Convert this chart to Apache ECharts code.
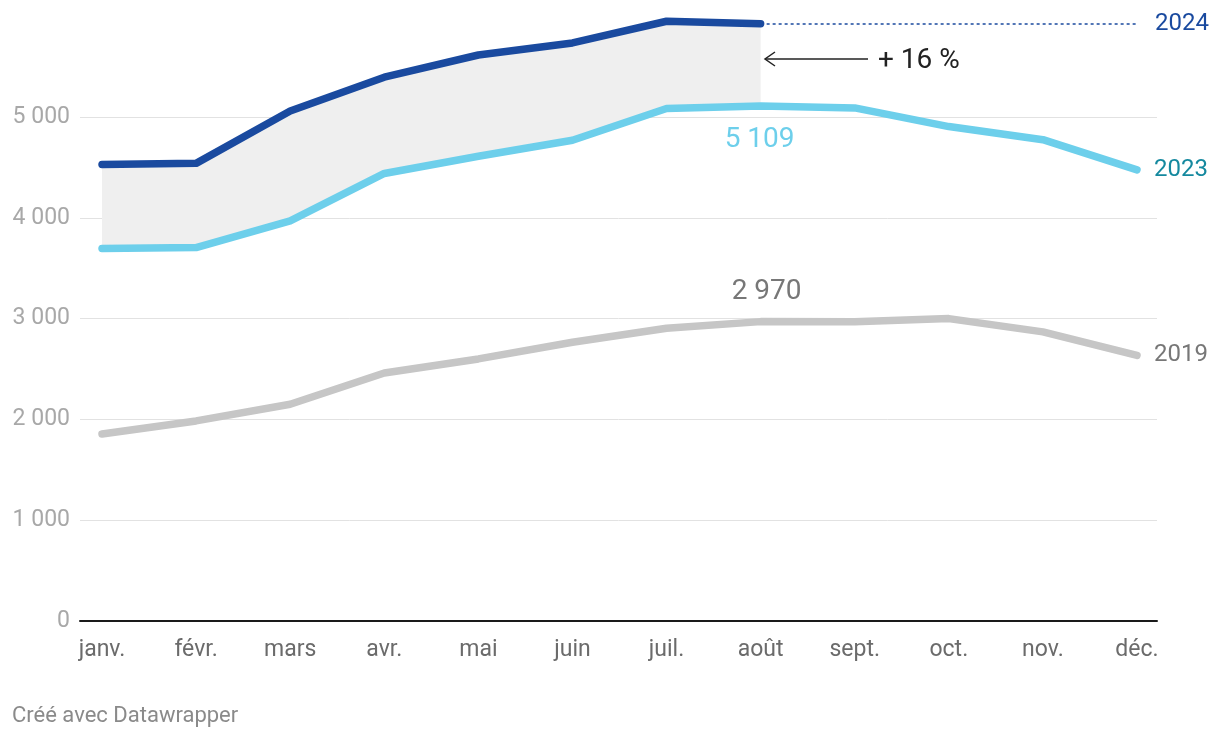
<!DOCTYPE html>
<html><head><meta charset="utf-8">
<script src="https://cdn.jsdelivr.net/npm/echarts@6/dist/echarts.min.js"></script>
<style>html,body{margin:0;padding:0;background:#fff}#c{width:1220px;height:738px}</style>
</head><body><div id="c"></div>
<script>
const months = ['janv.','févr.','mars','avr.','mai','juin','juil.','août','sept.','oct.','nov.','déc.'];
const values2024 = [4530, 4540, 5060, 5395, 5615, 5735, 5950, 5925];
const values2023 = [3695, 3705, 3970, 4440, 4610, 4770, 5085, 5109, 5090, 4905, 4775, 4475];
const values2019 = [1855, 1985, 2150, 2460, 2600, 2765, 2905, 2970, 2968, 3000, 2868, 2635];
const yTicks = [0, 1000, 2000, 3000, 4000, 5000];
const annotationText = '+ 16 %';

const FONT = 'Roboto';
const C24 = '#1a4a9f', C23 = '#6dcfeb', C19 = '#c6c6c6';
const fmt = v => String(v).replace(/\B(?=(\d{3})+(?!\d))/g, ' ');

const n24 = values2024.length;
const bandBase = values2023.slice(0, n24);
const bandDiff = values2024.map((v, i) => v - values2023[i]);

const chart = echarts.init(document.getElementById('c'), null, {renderer: 'canvas'});
chart.setOption({
  animation: false,
  textStyle: {fontFamily: FONT},
  grid: [
    {left: 80, right: 63, top: 117, bottom: 117},
    {left: 102, right: 83, top: 621 - 6000 * 0.1008, bottom: 117}
  ],
  xAxis: [
    {gridIndex: 0, type: 'value', min: 0, max: 1, axisLabel: {show: false}, axisTick: {show: false},
     splitLine: {show: false}, axisLine: {show: true, lineStyle: {color: '#1a1a1a', width: 2}}, z: 5},
    {gridIndex: 1, type: 'category', data: months, boundaryGap: false,
     axisLine: {show: false}, axisTick: {show: false},
     axisLabel: {color: '#6b6b6b', fontSize: 23, margin: 18, fontFamily: FONT}}
  ],
  yAxis: [
    {gridIndex: 0, type: 'value', min: yTicks[0], max: yTicks[yTicks.length - 1], interval: 1000,
     axisLine: {show: false}, axisTick: {show: false},
     axisLabel: {color: '#a8a8a8', fontSize: 23, margin: 10, fontFamily: FONT, formatter: v => fmt(v)},
     splitLine: {show: true, lineStyle: {color: '#e2e2e2', width: 1}}},
    {gridIndex: 1, type: 'value', min: 0, max: 6000, show: false, splitLine: {show: false}}
  ],
  series: [
    {name: 'base', type: 'line', xAxisIndex: 1, yAxisIndex: 1, stack: 'band', data: bandBase,
     showSymbol: false, symbol: 'none', lineStyle: {opacity: 0}, z: 1, clip: false, silent: true},
    {name: 'band', type: 'line', xAxisIndex: 1, yAxisIndex: 1, stack: 'band', data: bandDiff,
     showSymbol: false, symbol: 'none', lineStyle: {opacity: 0}, areaStyle: {color: '#efefef', opacity: 1},
     z: 1, clip: false, silent: true},
    {name: '2019', type: 'line', xAxisIndex: 1, yAxisIndex: 1, data: values2019,
     showSymbol: false, symbol: 'none', lineStyle: {color: C19, width: 7.5, cap: 'round', join: 'round'}, z: 3, clip: false,
     endLabel: {show: true, formatter: '2019', color: '#777777', fontSize: 24, distance: 17, fontFamily: FONT},
     markPoint: {symbol: 'circle', symbolSize: 0, silent: true,
       data: [{coord: ['août', values2019[7]], value: values2019[7]}],
       label: {show: true, position: 'inside', offset: [6, -30], formatter: p => fmt(p.value), color: '#777777', fontSize: 28, fontFamily: FONT}}},
    {name: '2023', type: 'line', xAxisIndex: 1, yAxisIndex: 1, data: values2023,
     showSymbol: false, symbol: 'none', lineStyle: {color: C23, width: 7.5, cap: 'round', join: 'round'}, z: 4, clip: false,
     endLabel: {show: true, formatter: '2023', color: '#15899f', fontSize: 24, distance: 17, fontFamily: FONT},
     markPoint: {symbol: 'circle', symbolSize: 0, silent: true,
       data: [{coord: ['août', values2023[7]], value: values2023[7]}],
       label: {show: true, position: 'inside', offset: [-1, 34], formatter: p => fmt(p.value), color: C23, fontSize: 28, fontFamily: FONT}}},
    {name: '2024', type: 'line', xAxisIndex: 1, yAxisIndex: 1, data: values2024,
     showSymbol: false, symbol: 'none', lineStyle: {color: C24, width: 7.5, cap: 'round', join: 'round'}, z: 5, clip: false,
     markLine: {symbol: 'none', silent: true,
       lineStyle: {color: C24, type: [3, 3], width: 1.5},
       label: {show: true, position: 'end', formatter: '2024', color: C24, fontSize: 24, distance: 18, fontFamily: FONT},
       data: [[{coord: ['août', values2024[n24 - 1]]}, {coord: ['déc.', values2024[n24 - 1]]}]]}}
  ],
  graphic: [
    {type: 'line', shape: {x1: 765, y1: 59, x2: 868, y2: 59}, style: {stroke: '#222', lineWidth: 1.5}, z: 10},
    {type: 'polyline', shape: {points: [[775, 52], [765, 59], [775, 66]]}, style: {stroke: '#222', lineWidth: 1.5, fill: null}, z: 10},
    {type: 'text', x: 878, y: 61, style: {text: annotationText, fill: '#222', font: '28px Roboto', textVerticalAlign: 'middle'}, z: 10},
    {type: 'text', x: 12, y: 716, style: {text: 'Créé avec Datawrapper', fill: '#8a8a8a', font: '22px Roboto', textVerticalAlign: 'middle'}}
  ]
});
</script></body></html>
